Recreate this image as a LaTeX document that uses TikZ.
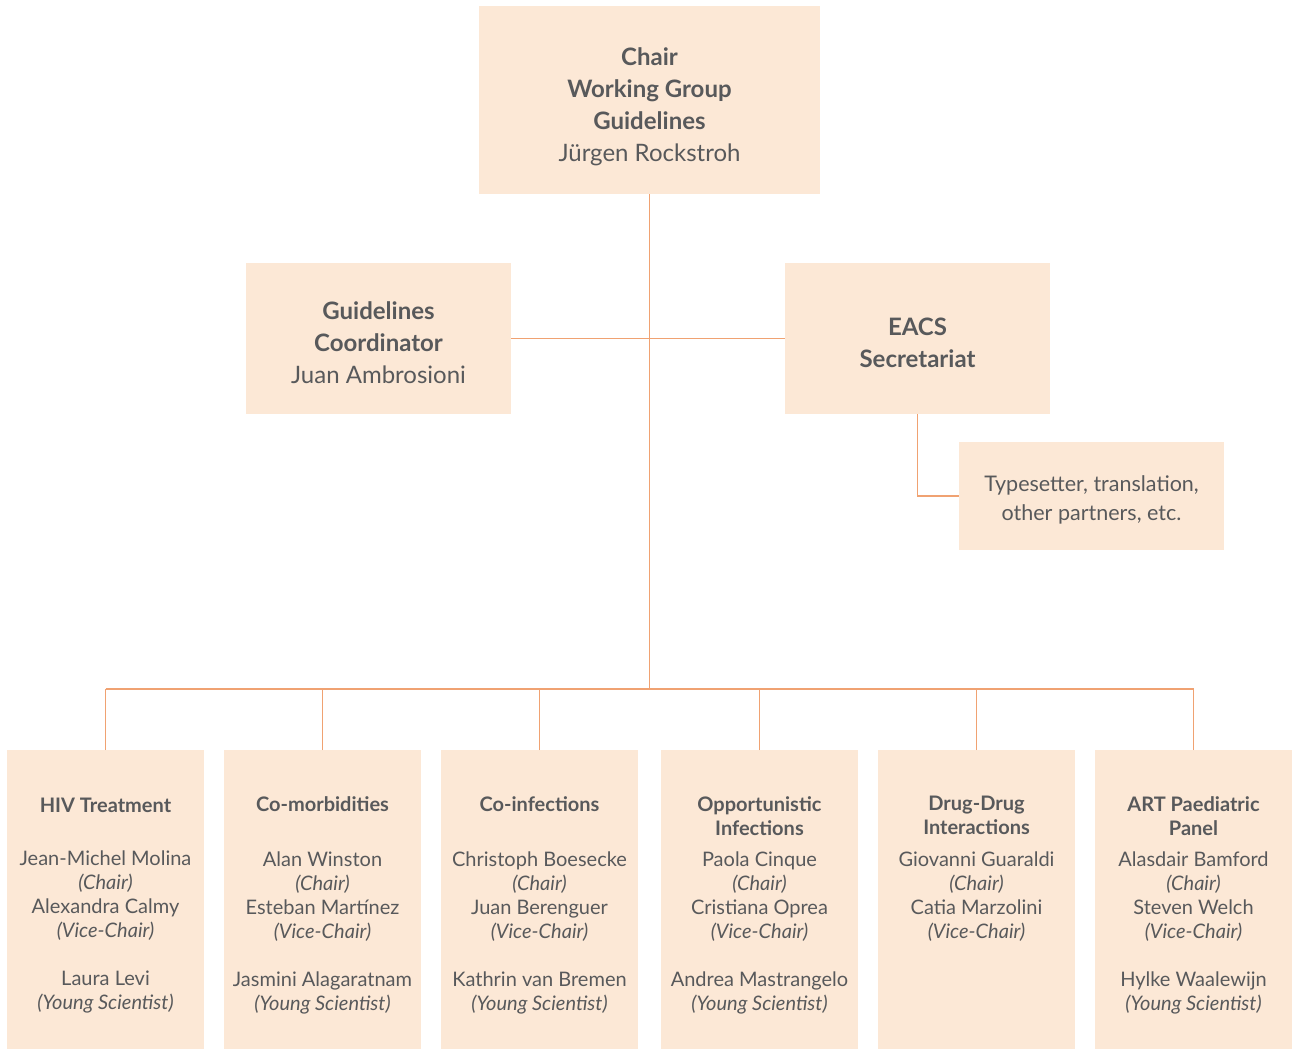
\documentclass[tikz,border=0pt]{standalone}
\usepackage{fontspec}
\setmainfont{Lato}
\usetikzlibrary{positioning}

\definecolor{boxfill}{HTML}{FCE8D6}
\definecolor{linkline}{HTML}{F0A272}
\definecolor{txtgray}{HTML}{58595B}

\tikzset{
  orgbox/.style={fill=boxfill, inner sep=0pt},
  panelbox/.style={orgbox, minimum width=197, minimum height=299, anchor=north},
  link/.style={draw=linkline, line width=1.4pt},
  headtxt/.style={text=txtgray, align=center, font=\fontsize{24}{32}\selectfont},
  paneltxt/.style={text=txtgray, align=center, font=\fontsize{20}{24}\selectfont, anchor=north, inner sep=0pt},
  typetxt/.style={text=txtgray, align=center, font=\fontsize{21.5}{29}\selectfont},
}

\begin{document}
\begin{tikzpicture}[x=1pt, y=-1pt]
    \useasboundingbox (0,0) rectangle (1299,1049);

    % top of the tree
    \node[orgbox, minimum width=341, minimum height=188] (chair) at (649.5,100) {};
    \node[orgbox, minimum width=265, minimum height=151] (coord) at (378.5,338.5) {};
    \node[orgbox, minimum width=265, minimum height=151] (secr) at (917.5,338.5) {};
    \node[orgbox, minimum width=265, minimum height=108] (types) at (1091.5,496) {};
    \coordinate (bus) at (649.5,689);

    \node[headtxt] (chairtxt) at ([yshift=-7pt]chair.center)
        {\textbf{Chair}\\\textbf{Working Group}\\\textbf{Guidelines}\\Jürgen Rockstroh};
    \node[headtxt] (coordtxt) at ([yshift=-4pt]coord.center)
        {\textbf{Guidelines}\\\textbf{Coordinator}\\Juan Ambrosioni};
    \node[headtxt] (secrtxt) at ([yshift=-4pt]secr.center)
        {\textbf{EACS}\\\textbf{Secretariat}};
    \node[typetxt] (typestxt) at ([yshift=-4pt]types.center)
        {Typesetter, translation,\\other partners, etc.};

    % panels
    \node[panelbox] (hiv) at (105.5,750) {};
    \node[panelbox] (comorb) at (322.5,750) {};
    \node[panelbox] (coinf) at (539.5,750) {};
    \node[panelbox] (oppinf) at (759.5,750) {};
    \node[panelbox] (ddi) at (976.5,750) {};
    \node[panelbox] (paed) at (1193.5,750) {};

    \node[paneltxt] at (105.5,798) {\textbf{HIV Treatment}};
    \node[paneltxt] at (322.5,796) {\textbf{Co-morbidities}};
    \node[paneltxt] at (539.5,796) {\textbf{Co-infections}};
    \node[paneltxt] at (759.5,796) {\textbf{Opportunistic}\\\textbf{Infections}};
    \node[paneltxt] at (976.5,796) {\textbf{Drug-Drug}\\\textbf{Interactions}};
    \node[paneltxt] at (1193.5,796) {\textbf{ART Paediatric}\\\textbf{Panel}};

    \node[paneltxt] at (105.5,851) {Jean-Michel Molina\\\textit{(Chair)}\\Alexandra Calmy\\\textit{(Vice-Chair)}\\[24pt]Laura Levi\\\textit{(Young Scientist)}};
    \node[paneltxt] at (322.5,852) {Alan Winston\\\textit{(Chair)}\\Esteban Martínez\\\textit{(Vice-Chair)}\\[24pt]Jasmini Alagaratnam\\\textit{(Young Scientist)}};
    \node[paneltxt] at (539.5,852) {Christoph Boesecke\\\textit{(Chair)}\\Juan Berenguer\\\textit{(Vice-Chair)}\\[24pt]Kathrin van Bremen\\\textit{(Young Scientist)}};
    \node[paneltxt] at (759.5,852) {Paola Cinque\\\textit{(Chair)}\\Cristiana Oprea\\\textit{(Vice-Chair)}\\[24pt]Andrea Mastrangelo\\\textit{(Young Scientist)}};
    \node[paneltxt] at (976.5,852) {Giovanni Guaraldi\\\textit{(Chair)}\\Catia Marzolini\\\textit{(Vice-Chair)}};
    \node[paneltxt] at (1193.5,852) {Alasdair Bamford\\\textit{(Chair)}\\Steven Welch\\\textit{(Vice-Chair)}\\[24pt]Hylke Waalewijn\\\textit{(Young Scientist)}};

    % connectors
    \draw[link] (chair.south) -- (bus);
    \draw[link] (coord.east) -- (secr.west);
    \draw[link] (secr.south) |- (types.west);
    \draw[link] (hiv.north |- bus) -- (paed.north |- bus);
    \foreach \p in {hiv,comorb,coinf,oppinf,ddi,paed}
        \draw[link] (\p.north) -- (\p.north |- bus);
\end{tikzpicture}
\end{document}
